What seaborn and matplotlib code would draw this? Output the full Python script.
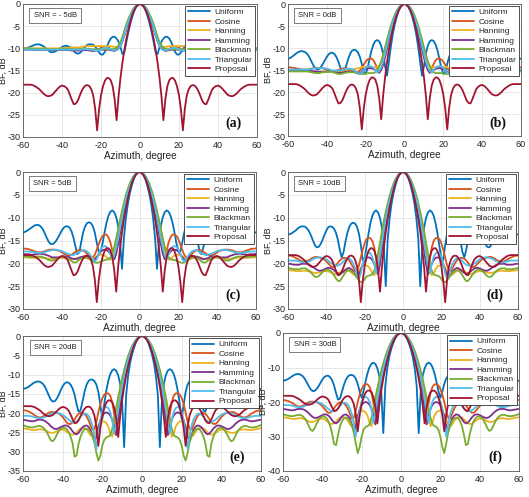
import numpy as np
import pandas as pd
import matplotlib
matplotlib.use("Agg")
import matplotlib.pyplot as plt
import seaborn as sns

# ---------------- data (half patterns 0..60 deg, symmetric) ----------------
azimuth_half = list(range(0, 61))
window_names = ["Uniform", "Cosine", "Hanning", "Hamming", "Blackman", "Triangular", "Proposal"]
window_colors = ["#0072BD", "#D95319", "#EDB120", "#7E2F8E", "#77AC30", "#4DBEEE", "#A2142F"]
snr_labels = ["SNR = - 5dB", "SNR = 0dB", "SNR = 5dB", "SNR = 10dB", "SNR = 20dB", "SNR = 30dB"]
panel_tags = ["(a)", "(b)", "(c)", "(d)", "(e)", "(f)"]
y_limits = [-30, -30, -30, -30, -35, -40]

proposal = [0, -0.2, -0.6, -1.4, -2.5, -4.0, -5.8, -7.9, -10.3, -13.2,
            -16.6, -20.8, -26.2, -21.5, -18.6, -17.2, -16.7, -16.7, -17.3, -18.6,
            -20.6, -23.8, -28.5, -23.6, -20.6, -19.2, -18.5, -18.3, -18.4, -18.9,
            -19.7, -20.8, -21.9, -22.5, -22.6, -21.6, -20.4, -19.3, -18.8, -18.5,
            -18.4, -18.6, -19.0, -19.5, -20.0, -20.5, -20.7, -20.8, -20.7, -20.4,
            -20.0, -19.5, -19.1, -18.8, -18.5, -18.3, -18.2, -18.2, -18.2, -18.2,
            -18.2]

# ---- Uniform ----
uniform_a = [0, -0.2, -0.7, -1.6, -2.9, -4.5, -6.4, -8.6, -10.9, -11.3,
             -9.8, -8.5, -7.8, -7.4, -7.4, -7.8, -8.6, -9.7, -10.8, -11.4,
             -11.4, -10.9, -10.2, -9.6, -9.2, -9.1, -9.1, -9.2, -9.6, -10.1,
             -10.7, -11.1, -11.2, -11.0, -10.6, -10.1, -9.7, -9.5, -9.4, -9.5,
             -9.7, -10.0, -10.3, -10.6, -10.8, -10.9, -10.8, -10.5, -10.1, -9.7,
             -9.4, -9.2, -9.1, -9.1, -9.2, -9.4, -9.6, -9.8, -9.9, -10.0,
             -10.0]
uniform_b = [0, -0.2, -0.7, -1.6, -2.9, -4.6, -6.8, -9.6, -13.0, -16.3,
             -14.2, -11.3, -9.5, -8.5, -8.2, -8.4, -9.2, -10.6, -12.5, -14.6,
             -15.9, -15.4, -13.6, -12.0, -11.0, -10.5, -10.4, -10.6, -11.3, -12.5,
             -14.0, -15.2, -15.4, -14.5, -13.2, -12.1, -11.4, -11.1, -11.1, -11.4,
             -12.0, -12.8, -13.6, -14.3, -14.8, -14.9, -14.6, -13.9, -13.0, -12.1,
             -11.4, -11.0, -10.8, -10.7, -10.8, -11.0, -11.3, -11.7, -12.0, -12.3,
             -12.5]
uniform_c = [0, -0.2, -0.7, -1.6, -3.0, -4.7, -7.0, -10.1, -14.3, -21.2,
             -15.5, -11.8, -9.9, -8.8, -8.4, -8.7, -9.6, -11.1, -13.2, -15.6,
             -17.3, -17.5, -15.5, -13.3, -11.9, -11.2, -11.0, -11.2, -11.9, -13.2,
             -15.3, -17.6, -18.0, -16.3, -14.4, -13.0, -12.2, -11.9, -11.9, -12.2,
             -12.8, -13.6, -14.4, -15.1, -15.6, -15.8, -15.7, -15.1, -14.2, -13.2,
             -12.4, -11.9, -11.6, -11.6, -11.7, -12.0, -12.3, -12.6, -12.9, -13.1,
             -13.3]
uniform_d = [0, -0.2, -0.7, -1.6, -3.0, -4.7, -7.0, -10.2, -14.8, -25.0,
             -16.5, -12.2, -10.1, -8.9, -8.4, -8.7, -9.6, -11.2, -13.5, -16.3,
             -18.8, -19.3, -16.0, -13.5, -12.0, -11.3, -11.1, -11.3, -12.0, -13.3,
             -15.2, -17.5, -18.7, -17.0, -14.8, -13.3, -12.4, -12.0, -11.9, -12.1,
             -12.8, -13.8, -14.9, -15.8, -16.4, -16.5, -16.0, -15.0, -13.9, -13.0,
             -12.4, -12.0, -11.9, -11.9, -12.1, -12.4, -12.8, -13.1, -13.4, -13.6,
             -13.7]
uniform_e = [0, -0.2, -0.7, -1.6, -3.0, -4.7, -7.0, -10.3, -15.4, -28.8,
             -17.3, -12.4, -10.2, -9.0, -8.6, -8.9, -9.9, -11.6, -14.2, -17.5,
             -21.5, -17.8, -14.5, -12.6, -11.7, -11.3, -11.3, -11.7, -12.7, -14.5,
             -17.0, -19.3, -19.6, -17.6, -15.2, -13.6, -12.6, -12.1, -12.0, -12.3,
             -13.0, -14.1, -15.3, -16.3, -16.9, -17.0, -16.5, -15.4, -14.2, -13.1,
             -12.4, -12.0, -11.8, -11.8, -12.0, -12.3, -12.7, -13.1, -13.4, -13.6,
             -13.8]
uniform_f = [0, -0.2, -0.7, -1.6, -3.0, -4.7, -7.0, -10.3, -15.5, -29.0,
             -17.5, -12.5, -10.3, -9.0, -8.6, -8.9, -9.9, -11.6, -14.0, -16.8,
             -18.8, -17.0, -14.8, -13.2, -12.4, -12.2, -12.2, -12.6, -13.5, -15.0,
             -17.0, -19.0, -19.3, -17.5, -15.3, -13.7, -12.8, -12.4, -12.4, -12.8,
             -13.5, -14.5, -15.5, -16.3, -16.8, -16.8, -16.3, -15.3, -14.2, -13.2,
             -12.5, -12.1, -11.9, -11.9, -12.1, -12.4, -12.8, -13.2, -13.5, -13.7,
             -13.9]

# ---- Cosine ----
cosine_a = [0, -0.1, -0.5, -1.0, -1.8, -2.8, -4.0, -5.4, -6.8, -8.2,
            -9.3, -10.0, -10.4, -10.6, -10.4, -10.1, -9.8, -9.6, -9.6, -9.7,
            -9.9, -10.1, -10.3, -10.4, -10.5, -10.5, -10.4, -10.4, -10.3, -10.3,
            -10.2, -10.2, -10.3, -10.3, -10.4, -10.4, -10.4, -10.4, -10.4, -10.4,
            -10.3, -10.3, -10.2, -10.2, -10.2, -10.2, -10.2, -10.2, -10.3, -10.3,
            -10.3, -10.3, -10.3, -10.3, -10.3, -10.3, -10.2, -10.2, -10.2, -10.2,
            -10.2]
cosine_b = [0, -0.1, -0.5, -1.0, -1.9, -3.0, -4.4, -6.1, -7.9, -9.8,
            -11.8, -13.5, -14.8, -15.6, -14.7, -13.6, -12.8, -12.4, -12.4, -12.6,
            -13.1, -13.8, -14.6, -15.1, -15.5, -15.5, -15.3, -15.0, -14.8, -14.7,
            -14.6, -14.6, -14.7, -14.8, -15.0, -15.1, -15.2, -15.2, -15.1, -15.0,
            -14.9, -14.8, -14.6, -14.6, -14.6, -14.5, -14.5, -14.6, -14.7, -14.8,
            -14.9, -14.9, -14.9, -14.9, -14.8, -14.7, -14.6, -14.5, -14.5, -14.4,
            -14.4]
cosine_c = [0, -0.1, -0.5, -1.1, -2.0, -3.1, -4.6, -6.3, -8.3, -10.5,
            -12.9, -15.2, -17.5, -19.1, -17.2, -15.4, -14.3, -13.7, -13.7, -14.0,
            -14.7, -15.8, -17.0, -18.1, -18.7, -18.8, -18.4, -17.9, -17.5, -17.2,
            -17.1, -17.1, -17.2, -17.5, -17.8, -18.1, -18.3, -18.3, -18.1, -17.9,
            -17.6, -17.3, -17.2, -17.1, -17.0, -17.0, -17.0, -17.1, -17.2, -17.4,
            -17.5, -17.6, -17.6, -17.5, -17.4, -17.2, -17.1, -16.9, -16.8, -16.8,
            -16.7]
cosine_d = [0, -0.1, -0.5, -1.1, -2.0, -3.2, -4.7, -6.5, -8.5, -10.8,
            -13.5, -16.3, -19.4, -22.3, -19.0, -16.5, -15.1, -14.5, -14.4, -14.7,
            -15.6, -17.0, -18.7, -20.5, -21.6, -21.7, -20.9, -20.1, -19.4, -19.0,
            -18.8, -18.8, -19.0, -19.4, -19.9, -20.5, -20.8, -20.8, -20.5, -20.0,
            -19.6, -19.2, -18.9, -18.8, -18.7, -18.6, -18.6, -18.8, -19.0, -19.3,
            -19.5, -19.6, -19.6, -19.5, -19.3, -19.0, -18.8, -18.6, -18.4, -18.3,
            -18.3]
cosine_e = [0, -0.1, -0.5, -1.1, -2.0, -3.2, -4.7, -6.5, -8.6, -11.0,
            -13.7, -16.9, -20.7, -25.5, -20.3, -17.2, -15.5, -14.9, -14.8, -15.2,
            -16.1, -17.7, -19.8, -22.3, -24.1, -24.3, -23.1, -21.8, -20.8, -20.2,
            -19.9, -19.9, -20.2, -20.8, -21.6, -22.4, -22.8, -22.8, -22.4, -21.7,
            -21.0, -20.5, -20.1, -19.9, -19.8, -19.7, -19.7, -19.9, -20.2, -20.6,
            -20.9, -21.1, -21.1, -20.9, -20.6, -20.2, -19.9, -19.6, -19.4, -19.3,
            -19.2]
cosine_f = [0, -0.1, -0.5, -1.1, -2.0, -3.2, -4.7, -6.5, -8.6, -11.0,
            -13.8, -17.0, -21.0, -26.3, -20.5, -17.3, -15.6, -14.9, -14.8, -15.2,
            -16.2, -17.8, -20.0, -22.6, -24.6, -24.8, -23.4, -22.0, -21.0, -20.4,
            -20.1, -20.1, -20.4, -21.0, -21.8, -22.6, -23.1, -23.1, -22.6, -21.9,
            -21.2, -20.7, -20.3, -20.1, -20.0, -19.9, -19.9, -20.1, -20.4, -20.8,
            -21.1, -21.3, -21.3, -21.1, -20.8, -20.4, -20.1, -19.8, -19.6, -19.5,
            -19.4]

# ---- Hanning ----
hanning_a = [0, -0.1, -0.4, -0.9, -1.6, -2.5, -3.6, -4.9, -6.3, -7.6,
             -8.7, -9.4, -9.7, -9.7, -9.6, -9.5, -9.5, -9.5, -9.5, -9.5,
             -9.5, -9.5, -9.5, -9.5, -9.5, -9.5, -9.5, -9.5, -9.5, -9.6,
             -9.7, -9.8, -9.8, -9.8, -9.8, -9.8, -9.8, -9.9, -9.9, -9.9,
             -10.0, -10.0, -10.0, -10.0, -10.0, -10.0, -10.0, -10.0, -10.0, -10.0,
             -10.0, -10.0, -10.0, -10.0, -10.0, -10.0, -10.0, -10.0, -10.0, -10.0,
             -10.0]
hanning_b = [0, -0.1, -0.4, -0.9, -1.7, -2.6, -3.8, -5.2, -6.8, -8.5,
             -10.3, -11.9, -13.2, -14.0, -14.3, -14.4, -14.4, -14.3, -14.3, -14.3,
             -14.3, -14.3, -14.4, -14.5, -14.6, -14.7, -14.8, -14.9, -15.0, -15.1,
             -15.2, -15.3, -15.3, -15.4, -15.4, -15.4, -15.4, -15.4, -15.4, -15.4,
             -15.4, -15.4, -15.4, -15.4, -15.4, -15.4, -15.4, -15.4, -15.4, -15.3,
             -15.3, -15.3, -15.3, -15.3, -15.3, -15.3, -15.3, -15.3, -15.3, -15.3,
             -15.3]
hanning_c = [0, -0.1, -0.4, -1.0, -1.8, -2.7, -4.0, -5.5, -7.2, -9.1,
             -11.1, -13.3, -15.4, -17.3, -18.6, -19.2, -19.1, -18.6, -18.3, -18.1,
             -18.1, -18.2, -18.5, -18.8, -19.1, -19.2, -19.1, -18.9, -18.8, -18.7,
             -18.6, -18.7, -18.8, -19.0, -19.1, -19.1, -19.1, -19.0, -18.9, -18.8,
             -18.8, -18.8, -18.8, -18.9, -19.0, -19.0, -19.0, -19.0, -18.9, -18.8,
             -18.8, -18.7, -18.7, -18.8, -18.8, -18.8, -18.8, -18.7, -18.7, -18.7,
             -18.7]
hanning_d = [0, -0.1, -0.4, -1.0, -1.8, -2.8, -4.1, -5.6, -7.3, -9.3,
             -11.5, -13.9, -16.5, -19.1, -21.3, -22.6, -22.2, -21.3, -20.7, -20.5,
             -20.4, -20.6, -21.0, -21.8, -22.4, -22.6, -22.4, -22.0, -21.7, -21.5,
             -21.4, -21.5, -21.8, -22.0, -22.2, -22.4, -22.3, -22.2, -21.9, -21.8,
             -21.7, -21.7, -21.8, -21.9, -22.0, -22.1, -22.1, -22.0, -21.9, -21.8,
             -21.7, -21.6, -21.6, -21.7, -21.7, -21.7, -21.7, -21.6, -21.6, -21.5,
             -21.5]
hanning_e = [0, -0.1, -0.4, -1.0, -1.8, -2.8, -4.1, -5.6, -7.4, -9.4,
             -11.7, -14.3, -17.1, -20.3, -23.5, -26.1, -25.3, -23.5, -22.6, -22.2,
             -22.1, -22.4, -23.1, -24.4, -25.7, -26.1, -25.7, -24.9, -24.2, -23.9,
             -23.8, -24.0, -24.4, -25.0, -25.4, -25.6, -25.5, -25.2, -24.8, -24.4,
             -24.3, -24.3, -24.4, -24.7, -25.0, -25.1, -25.1, -25.0, -24.7, -24.4,
             -24.3, -24.2, -24.2, -24.3, -24.4, -24.4, -24.3, -24.2, -24.1, -24.0,
             -23.9]
hanning_f = [0, -0.1, -0.4, -1.0, -1.8, -2.8, -4.1, -5.6, -7.4, -9.4,
             -11.7, -14.3, -17.2, -20.5, -24.0, -27.0, -26.0, -24.0, -23.0, -22.6,
             -22.5, -22.8, -23.6, -25.0, -26.5, -27.0, -26.5, -25.5, -24.8, -24.4,
             -24.3, -24.5, -25.0, -25.6, -26.1, -26.4, -26.3, -25.9, -25.4, -25.0,
             -24.8, -24.8, -25.0, -25.3, -25.6, -25.8, -25.8, -25.6, -25.3, -25.0,
             -24.8, -24.7, -24.7, -24.8, -24.9, -24.9, -24.8, -24.7, -24.6, -24.5,
             -24.4]

# ---- Hamming ----
hamming_a = [0, -0.1, -0.5, -1.0, -1.9, -2.9, -4.2, -5.6, -7.1, -8.4,
             -9.4, -10.0, -10.3, -10.5, -10.5, -10.4, -10.3, -10.3, -10.3, -10.3,
             -10.3, -10.4, -10.5, -10.5, -10.6, -10.5, -10.5, -10.4, -10.4, -10.4,
             -10.4, -10.5, -10.5, -10.5, -10.5, -10.5, -10.4, -10.4, -10.4, -10.4,
             -10.4, -10.4, -10.4, -10.4, -10.4, -10.4, -10.4, -10.3, -10.3, -10.3,
             -10.3, -10.3, -10.3, -10.3, -10.3, -10.3, -10.3, -10.3, -10.3, -10.3,
             -10.3]
hamming_b = [0, -0.1, -0.5, -1.1, -2.0, -3.1, -4.6, -6.3, -8.2, -10.2,
             -12.1, -13.8, -15.0, -15.6, -15.4, -15.0, -14.8, -14.6, -14.6, -14.6,
             -14.8, -15.1, -15.4, -15.7, -15.8, -15.6, -15.4, -15.4, -15.3, -15.3,
             -15.4, -15.5, -15.6, -15.6, -15.6, -15.6, -15.5, -15.3, -15.3, -15.3,
             -15.3, -15.4, -15.4, -15.4, -15.4, -15.4, -15.3, -15.3, -15.2, -15.1,
             -15.1, -15.1, -15.1, -15.1, -15.1, -15.1, -15.1, -15.1, -15.1, -15.1,
             -15.1]
hamming_c = [0, -0.1, -0.5, -1.2, -2.1, -3.3, -4.8, -6.6, -8.6, -10.9,
             -13.4, -15.8, -17.9, -19.1, -18.6, -17.9, -17.4, -17.1, -17.0, -17.1,
             -17.4, -18.0, -18.6, -19.2, -19.5, -19.1, -18.8, -18.6, -18.5, -18.5,
             -18.6, -18.8, -19.0, -19.1, -19.0, -18.9, -18.7, -18.5, -18.5, -18.5,
             -18.5, -18.6, -18.7, -18.7, -18.7, -18.7, -18.5, -18.3, -18.2, -18.0,
             -18.0, -17.9, -17.9, -18.0, -18.0, -18.1, -18.1, -18.0, -18.0, -18.0,
             -17.9]
hamming_d = [0, -0.1, -0.5, -1.2, -2.1, -3.3, -4.9, -6.8, -8.9, -11.3,
             -14.0, -17.0, -20.1, -22.4, -21.2, -20.1, -19.3, -18.8, -18.7, -18.8,
             -19.4, -20.2, -21.4, -22.6, -23.1, -22.4, -21.7, -21.3, -21.0, -21.1,
             -21.4, -21.8, -22.1, -22.3, -22.2, -21.9, -21.5, -21.2, -21.0, -21.0,
             -21.1, -21.3, -21.5, -21.6, -21.6, -21.4, -21.1, -20.8, -20.5, -20.3,
             -20.1, -20.1, -20.1, -20.1, -20.3, -20.3, -20.3, -20.3, -20.2, -20.1,
             -20.1]
hamming_e = [0, -0.1, -0.5, -1.2, -2.1, -3.3, -4.9, -6.8, -9.0, -11.5,
             -14.3, -17.7, -21.7, -25.7, -23.6, -21.7, -20.6, -20.0, -19.8, -20.0,
             -20.7, -21.9, -23.7, -26.1, -27.3, -25.7, -24.3, -23.5, -23.2, -23.3,
             -23.7, -24.4, -25.1, -25.5, -25.3, -24.7, -24.0, -23.5, -23.2, -23.2,
             -23.4, -23.6, -23.9, -24.1, -24.1, -23.8, -23.4, -22.8, -22.4, -22.0,
             -21.8, -21.7, -21.7, -21.8, -22.0, -22.1, -22.1, -22.0, -21.9, -21.8,
             -21.7]
hamming_f = [0, -0.1, -0.5, -1.2, -2.1, -3.3, -4.9, -6.8, -9.0, -11.5,
             -14.4, -17.8, -22.0, -26.5, -24.0, -22.0, -20.8, -20.2, -20.0, -20.2,
             -20.9, -22.2, -24.2, -27.0, -28.5, -26.5, -24.8, -24.0, -23.6, -23.7,
             -24.2, -25.0, -25.8, -26.2, -26.0, -25.3, -24.5, -23.9, -23.6, -23.6,
             -23.8, -24.1, -24.4, -24.6, -24.6, -24.3, -23.8, -23.2, -22.7, -22.3,
             -22.1, -22.0, -22.0, -22.1, -22.3, -22.4, -22.4, -22.3, -22.2, -22.1,
             -22.0]

# ---- Blackman ----
blackman_a = [0, -0.1, -0.4, -0.8, -1.5, -2.4, -3.4, -4.6, -6.0, -7.4,
              -8.6, -9.4, -9.9, -10.1, -10.2, -10.2, -10.2, -10.2, -10.2, -10.2,
              -10.2, -10.2, -10.2, -10.2, -10.2, -10.2, -10.1, -10.1, -10.1, -10.1,
              -10.2, -10.2, -10.2, -10.2, -10.2, -10.2, -10.1, -10.1, -10.1, -10.1,
              -10.1, -10.1, -10.2, -10.2, -10.2, -10.2, -10.2, -10.2, -10.1, -10.1,
              -10.1, -10.1, -10.1, -10.1, -10.1, -10.1, -10.1, -10.1, -10.1, -10.1,
              -10.1]
blackman_b = [0, -0.1, -0.4, -0.8, -1.5, -2.4, -3.6, -4.9, -6.4, -8.1,
              -9.8, -11.5, -13.0, -14.2, -15.0, -15.5, -15.7, -15.7, -15.7, -15.7,
              -15.8, -15.9, -15.9, -15.9, -15.8, -15.6, -15.5, -15.5, -15.5, -15.5,
              -15.6, -15.7, -15.8, -15.9, -15.9, -15.8, -15.6, -15.5, -15.4, -15.4,
              -15.4, -15.5, -15.5, -15.6, -15.7, -15.7, -15.7, -15.6, -15.5, -15.4,
              -15.3, -15.3, -15.3, -15.3, -15.3, -15.3, -15.3, -15.3, -15.3, -15.3,
              -15.3]
blackman_c = [0, -0.1, -0.4, -0.9, -1.6, -2.5, -3.7, -5.0, -6.7, -8.5,
              -10.4, -12.5, -14.5, -16.4, -17.8, -18.7, -19.1, -19.2, -19.3, -19.4,
              -19.6, -19.8, -19.9, -19.8, -19.5, -19.2, -18.9, -18.8, -18.7, -18.8,
              -18.9, -19.2, -19.6, -19.8, -19.8, -19.5, -19.2, -18.9, -18.7, -18.6,
              -18.6, -18.7, -18.9, -19.1, -19.3, -19.4, -19.4, -19.2, -19.0, -18.8,
              -18.6, -18.5, -18.5, -18.5, -18.6, -18.6, -18.6, -18.6, -18.5, -18.5,
              -18.4]
blackman_d = [0, -0.1, -0.4, -0.9, -1.6, -2.6, -3.8, -5.2, -6.9, -8.7,
              -10.7, -13.0, -15.4, -17.8, -20.0, -21.6, -22.4, -22.6, -22.7, -22.9,
              -23.4, -24.0, -24.1, -23.8, -23.1, -22.5, -22.0, -21.7, -21.5, -21.6,
              -22.0, -22.6, -23.3, -23.9, -23.8, -23.3, -22.6, -22.0, -21.6, -21.4,
              -21.4, -21.6, -21.9, -22.4, -22.8, -23.0, -22.9, -22.5, -22.0, -21.6,
              -21.3, -21.1, -21.1, -21.1, -21.3, -21.3, -21.3, -21.3, -21.2, -21.1,
              -21.0]
blackman_e = [0, -0.1, -0.4, -0.9, -1.6, -2.6, -3.8, -5.2, -6.9, -8.8,
              -10.9, -13.3, -15.8, -18.6, -21.5, -24.0, -25.7, -26.1, -26.3, -26.9,
              -28.4, -31.0, -32.3, -30.3, -27.5, -26.0, -24.9, -24.3, -24.0, -24.2,
              -24.9, -26.1, -28.0, -31.0, -31.3, -27.8, -26.1, -24.9, -24.1, -23.8,
              -23.8, -24.1, -24.7, -25.6, -26.7, -27.3, -27.0, -26.0, -24.9, -24.2,
              -23.7, -23.4, -23.3, -23.4, -23.6, -23.7, -23.7, -23.6, -23.5, -23.3,
              -23.1]
blackman_f = [0, -0.1, -0.4, -0.9, -1.6, -2.6, -3.8, -5.2, -6.9, -8.8,
              -10.9, -13.3, -15.9, -18.8, -21.8, -24.6, -26.5, -27.0, -27.2, -28.0,
              -30.0, -33.0, -34.8, -32.0, -28.8, -26.8, -25.5, -24.8, -24.5, -24.7,
              -25.5, -27.0, -29.5, -32.5, -32.2, -29.2, -27.0, -25.5, -24.6, -24.2,
              -24.2, -24.6, -25.3, -26.4, -27.7, -28.4, -28.0, -26.8, -25.6, -24.7,
              -24.1, -23.8, -23.7, -23.8, -24.0, -24.1, -24.1, -24.0, -23.9, -23.7,
              -23.5]

# ---- Triangular ----
triangular_a = [0, -0.1, -0.5, -1.0, -1.8, -2.8, -4.0, -5.4, -6.9, -8.3,
                -9.4, -10.1, -10.4, -10.5, -10.4, -10.2, -10.0, -9.9, -9.9, -10.0,
                -10.2, -10.4, -10.5, -10.5, -10.4, -10.3, -10.3, -10.2, -10.2, -10.2,
                -10.3, -10.3, -10.3, -10.3, -10.3, -10.3, -10.3, -10.3, -10.3, -10.3,
                -10.3, -10.3, -10.3, -10.3, -10.3, -10.3, -10.3, -10.3, -10.3, -10.3,
                -10.3, -10.3, -10.3, -10.3, -10.3, -10.3, -10.3, -10.3, -10.3, -10.3,
                -10.3]
triangular_b = [0, -0.1, -0.5, -1.1, -1.9, -3.0, -4.2, -5.8, -7.6, -9.4,
                -11.3, -13.0, -14.4, -15.2, -15.6, -15.1, -14.5, -14.2, -14.1, -14.2,
                -14.5, -15.1, -15.6, -15.9, -15.7, -15.3, -15.0, -14.8, -14.7, -14.7,
                -14.7, -14.9, -15.0, -15.1, -15.1, -15.1, -15.1, -15.1, -15.0, -14.8,
                -14.7, -14.6, -14.6, -14.6, -14.6, -14.6, -14.6, -14.7, -14.8, -14.9,
                -14.9, -14.9, -14.9, -14.9, -14.9, -14.9, -14.9, -14.9, -14.9, -14.9,
                -14.9]
triangular_c = [0, -0.1, -0.5, -1.1, -2.0, -3.1, -4.4, -6.0, -7.9, -10.1,
                -12.3, -14.6, -16.6, -18.3, -19.1, -17.9, -16.9, -16.4, -16.2, -16.4,
                -16.9, -17.9, -19.1, -19.6, -19.1, -18.4, -17.8, -17.4, -17.2, -17.1,
                -17.3, -17.5, -17.8, -18.0, -18.2, -18.2, -18.0, -17.9, -17.7, -17.5,
                -17.3, -17.2, -17.1, -17.0, -17.0, -17.1, -17.2, -17.3, -17.4, -17.6,
                -17.7, -17.7, -17.7, -17.7, -17.6, -17.5, -17.5, -17.4, -17.4, -17.4,
                -17.4]
triangular_d = [0, -0.1, -0.5, -1.1, -2.0, -3.1, -4.5, -6.2, -8.1, -10.3,
                -12.8, -15.5, -18.2, -20.7, -22.2, -20.1, -18.6, -17.8, -17.6, -17.8,
                -18.6, -20.1, -22.2, -23.4, -22.4, -21.0, -20.0, -19.3, -18.9, -18.8,
                -19.1, -19.5, -20.0, -20.3, -20.5, -20.5, -20.3, -20.1, -19.8, -19.4,
                -19.1, -18.9, -18.8, -18.7, -18.7, -18.8, -18.9, -19.1, -19.4, -19.6,
                -19.7, -19.8, -19.8, -19.7, -19.6, -19.5, -19.4, -19.4, -19.4, -19.4,
                -19.4]
triangular_e = [0, -0.1, -0.5, -1.1, -2.0, -3.1, -4.5, -6.2, -8.2, -10.5,
                -13.1, -16.0, -19.2, -22.7, -25.3, -21.8, -19.7, -18.7, -18.4, -18.7,
                -19.7, -21.8, -25.3, -29.3, -25.7, -23.2, -21.6, -20.7, -20.2, -20.1,
                -20.4, -20.9, -21.6, -22.1, -22.4, -22.4, -22.1, -21.7, -21.3, -20.8,
                -20.5, -20.2, -20.0, -19.9, -19.9, -20.0, -20.2, -20.5, -20.7, -21.0,
                -21.2, -21.3, -21.3, -21.2, -21.1, -20.9, -20.8, -20.7, -20.7, -20.7,
                -20.7]
triangular_f = [0, -0.1, -0.5, -1.1, -2.0, -3.1, -4.5, -6.2, -8.2, -10.5,
                -13.1, -16.0, -19.3, -23.0, -26.0, -22.0, -19.8, -18.8, -18.5, -18.8,
                -19.8, -22.0, -26.0, -30.0, -26.5, -23.5, -21.8, -20.8, -20.3, -20.2,
                -20.5, -21.1, -21.8, -22.4, -22.7, -22.7, -22.4, -22.0, -21.5, -21.0,
                -20.6, -20.3, -20.1, -20.0, -20.0, -20.1, -20.3, -20.6, -20.9, -21.2,
                -21.4, -21.5, -21.5, -21.4, -21.3, -21.1, -21.0, -20.9, -20.9, -20.9,
                -20.9]

panel_series = [
    [uniform_a, cosine_a, hanning_a, hamming_a, blackman_a, triangular_a, proposal],
    [uniform_b, cosine_b, hanning_b, hamming_b, blackman_b, triangular_b, proposal],
    [uniform_c, cosine_c, hanning_c, hamming_c, blackman_c, triangular_c, proposal],
    [uniform_d, cosine_d, hanning_d, hamming_d, blackman_d, triangular_d, proposal],
    [uniform_e, cosine_e, hanning_e, hamming_e, blackman_e, triangular_e, proposal],
    [uniform_f, cosine_f, hanning_f, hamming_f, blackman_f, triangular_f, proposal],
]

# ---------------- build figure ----------------
sns.set_theme(style="whitegrid")
plt.rcParams["font.family"] = ["Liberation Sans", "DejaVu Sans"]
plt.rcParams["axes.unicode_minus"] = False

W, H = 529, 497
fig = plt.figure(figsize=(W / 100, H / 100), dpi=100)

# axes boxes in pixels: left, top, right, bottom
boxes = [(23, 4, 257, 137), (288, 4, 521, 136),
         (23, 172, 256, 309), (288, 172, 518, 309),
         (23, 336, 261, 471), (283, 333, 519, 471)]

full_az = np.array(azimuth_half[:0:-1]) * -1
full_az = np.concatenate([full_az, np.array(azimuth_half)])
palette = dict(zip(window_names, window_colors))

for i, (l, t, r, b) in enumerate(boxes):
    ax = fig.add_axes([l / W, 1 - b / H, (r - l) / W, (b - t) / H])
    rows = []
    for name, half in zip(window_names, panel_series[i]):
        vals = list(half[:0:-1]) + list(half)
        for az, v in zip(full_az, vals):
            rows.append((name, az, v))
    df = pd.DataFrame(rows, columns=["window", "azimuth", "bf"])
    sns.lineplot(data=df, x="azimuth", y="bf", hue="window", hue_order=window_names,
                 palette=palette, linewidth=1.3, ax=ax, sort=False, estimator=None)
    ax.set_xlim(-60, 60)
    ax.set_ylim(y_limits[i], 0)
    ax.set_xticks([-60, -40, -20, 0, 20, 40, 60])
    if i == 5:
        ax.set_yticks([0, -10, -20, -30, -40])
    else:
        ax.set_yticks(list(range(0, y_limits[i] - 1, -5)))
    ax.tick_params(labelsize=6.5, length=2, direction="in", colors="#222222")
    ax.tick_params(axis="x", pad=3.2)
    ax.tick_params(axis="y", pad=1.5)
    ax.grid(True, color="#e3e3e3", linewidth=0.6)
    for s in ax.spines.values():
        s.set_color("#555555")
        s.set_linewidth(0.6)
    ax.set_xlabel("Azimuth, degree", fontsize=7.2, labelpad=0.3, color="#222222")
    ax.set_ylabel("BF, dB", fontsize=6.5, color="#222222")
    ax.yaxis.set_label_coords(-15.0 / (r - l), 0.5)
    handles, labels = ax.get_legend_handles_labels()
    leg = ax.legend(handles, labels, loc="upper right", fontsize=6,
                    frameon=True, fancybox=False, framealpha=1,
                    edgecolor="#333333", borderaxespad=0.25, borderpad=0.3,
                    labelspacing=0.2, handlelength=2.6, handletextpad=0.6)
    leg.get_frame().set_linewidth(0.6)
    for lh in leg.get_lines():
        lh.set_linewidth(1.3)
    ax.text(0.045, 0.915, snr_labels[i], transform=ax.transAxes, fontsize=5.5,
            va="center", ha="left", color="#222222",
            bbox=dict(boxstyle="square,pad=0.55", fc="white", ec="#666666", lw=0.6))
    ax.text(0.9, 0.1, panel_tags[i], transform=ax.transAxes, fontsize=10,
            fontweight="bold", family=["Liberation Serif", "DejaVu Serif"],
            ha="center", va="center", color="#111111")

fig.savefig("out.png", dpi=100)
